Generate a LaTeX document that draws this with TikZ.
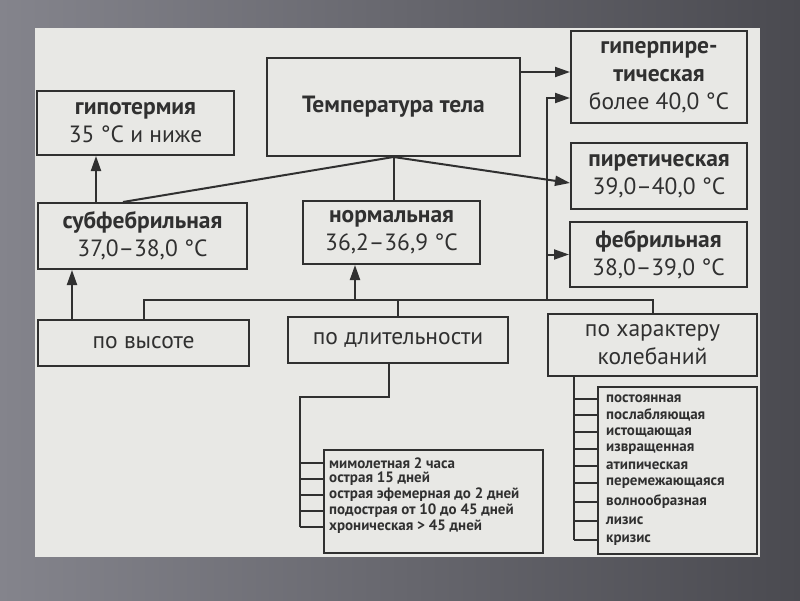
\documentclass[tikz,border=0pt]{standalone}
\usepackage{fontspec}
\setmainfont{PT Sans}
\usepackage{xcolor}
\usepackage{tikz}
\usetikzlibrary{arrows.meta,positioning,calc}

\definecolor{ink}{RGB}{48,48,48}
\definecolor{paper}{RGB}{232,232,229}
\definecolor{bgLight}{RGB}{132,132,140}
\definecolor{bgDark}{RGB}{74,74,80}

\begin{document}
\begin{tikzpicture}[
    x=1pt, y=-1pt,
    font=\fontsize{23.5}{28}\selectfont,
    box/.style={draw=ink, line width=2pt, align=center, inner sep=0pt, text=ink},
    item/.style={anchor=west, inner sep=0pt, text=ink, font=\bfseries\fontsize{15}{17}\selectfont},
    link/.style={draw=ink, line width=2pt},
    flow/.style={-{Triangle[length=15pt, width=10pt]}, draw=ink, line width=2pt}
]
% background and page
\shade[left color=bgLight, right color=bgDark] (0,0) rectangle (800,600);
\fill[paper] (35,28) rectangle (760,557);
\useasboundingbox (0,0) rectangle (800,600);

\node[box, minimum width=253pt, minimum height=98pt] (temp) at (393.5,107) {\textbf{Температура тела}};
\node[box, minimum width=197pt, minimum height=64pt] (hypo) at (135.5,123) {\textbf{гипотермия}\\35 °C и ниже};
\node[box, minimum width=176pt, minimum height=92pt] (hyper) at (659,77) {\textbf{гиперпире-}\\\textbf{тическая}\\более 40,0 °C};
\node[box, minimum width=176pt, minimum height=66pt] (pyr) at (659,176) {\textbf{пиретическая}\\39,0–40,0 °C};
\node[box, minimum width=177pt, minimum height=65pt] (febr) at (658.5,254.5) {\textbf{фебрильная}\\38,0–39,0 °C};
\node[box, minimum width=209pt, minimum height=66pt] (subf) at (142.5,236) {\textbf{субфебрильная}\\37,0–38,0 °C};
\node[box, minimum width=177pt, minimum height=63pt] (norm) at (391.5,232.5) {\textbf{нормальная}\\36,2–36,9 °C};
\node[box, minimum width=211pt, minimum height=46pt] (height) at (143.5,343) {по высоте};
\node[box, minimum width=220pt, minimum height=46pt] (dur) at (398,340) {по длительности};
\node[box, minimum width=209pt, minimum height=62pt] (char) at (652.5,345) {по характеру\\колебаний};
\node[box, minimum width=219pt, minimum height=103pt] (durlist) at (433.5,501.5) {};
\node[box, minimum width=159pt, minimum height=167pt] (charlist) at (677.5,470.5) {};

% duration items
\node[item] (d1) at (329,463) {мимолетная 2 часа};
\node[item] (d2) at (329,479) {острая 15 дней};
\node[item] (d3) at (329,495) {острая эфемерная до 2 дней};
\node[item] (d4) at (329,511) {подострая от 10 до 45 дней};
\node[item] (d5) at (329,527) {хроническая > 45 дней};

% fluctuation items
\node[item] (c1) at (606,399) {постоянная};
\node[item] (c2) at (606,415) {послабляющая};
\node[item] (c3) at (606,432) {истощающая};
\node[item] (c4) at (606,449) {извращенная};
\node[item] (c5) at (606,466) {атипическая};
\node[item] (c6) at (606,483) {перемежающаяся};
\node[item] (c7) at (606,502) {волнообразная};
\node[item] (c8) at (606,521) {лизис};
\node[item] (c9) at (606,540) {кризис};

\coordinate (bus) at (0,300);
\coordinate (rs) at (547,0);
\coordinate (nb) at ([xshift=-36.5pt]norm.south);
\coordinate (dbar) at (300,397);
\coordinate (cbar) at ([xshift=-78.5pt]char.south);

% from the main box
\draw[link] (temp.south) -- ([xshift=-19.5pt]subf.north);
\draw[link] (temp.south) -- (temp.south |- norm.north);
\draw[flow] (temp.south) -- ([yshift=-7pt]pyr.west);
\draw[flow] ([yshift=35pt]temp.east) -- ([yshift=35pt]temp.east -| hyper.west);

% classification bus
\draw[link] (height.north) -- (height.north |- bus) -- (char.north |- bus) -- (char.north);
\draw[link] (dur.north) -- (dur.north |- bus);
\draw[flow] (nb |- bus) -- (nb);
\draw[flow] (rs |- bus) |- ([yshift=-21pt]hyper.west);
\draw[flow] (rs |- febr.west) -- (febr.west);
\draw[flow] ([xshift=-71.5pt]height.north) -- ([xshift=-70.5pt]subf.south);
\draw[flow] ([xshift=-46.5pt]subf.north) -- ([xshift=-39.5pt]hypo.south);

% lists
\draw[link] ([xshift=-9pt]dur.south) |- (dbar) -- (dbar |- d5);
\draw[link] (dbar |- d1) -- (durlist.west |- d1);
\draw[link] (dbar |- d2) -- (durlist.west |- d2);
\draw[link] (dbar |- d3) -- (durlist.west |- d3);
\draw[link] (dbar |- d4) -- (durlist.west |- d4);
\draw[link] (dbar |- d5) -- (durlist.west |- d5);

\draw[link] (cbar) -- (cbar |- c9);
\draw[link] (cbar |- c1) -- (charlist.west |- c1);
\draw[link] (cbar |- c2) -- (charlist.west |- c2);
\draw[link] (cbar |- c3) -- (charlist.west |- c3);
\draw[link] (cbar |- c4) -- (charlist.west |- c4);
\draw[link] (cbar |- c5) -- (charlist.west |- c5);
\draw[link] (cbar |- c6) -- (charlist.west |- c6);
\draw[link] (cbar |- c7) -- (charlist.west |- c7);
\draw[link] (cbar |- c8) -- (charlist.west |- c8);
\draw[link] (cbar |- c9) -- (charlist.west |- c9);
\end{tikzpicture}
\end{document}
